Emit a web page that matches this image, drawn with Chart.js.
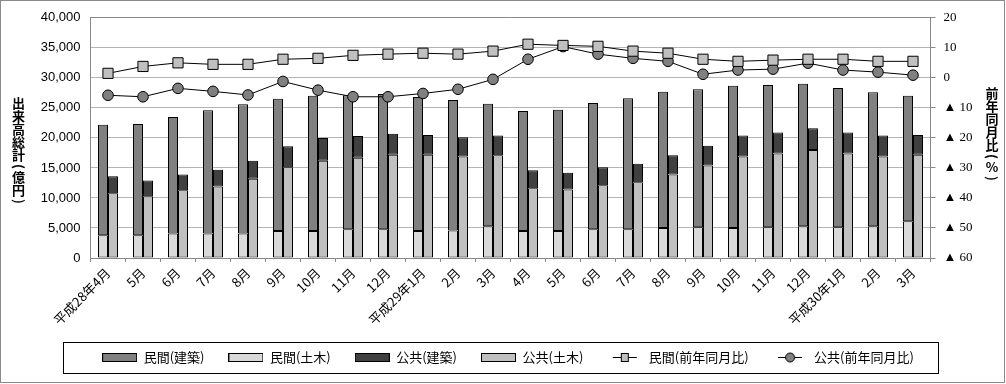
<!DOCTYPE html>
<html>
<head>
<meta charset="utf-8">
<script src="https://cdn.jsdelivr.net/npm/chart.js@4/dist/chart.umd.min.js"></script>
<style>
  html, body { margin: 0; padding: 0; background: #fff; }
  #wrap { position: relative; width: 1006px; height: 384px; }
  #c { position: absolute; left: 0; top: 0; }
</style>
</head>
<body>
<div id="wrap">
  <canvas id="c" width="1006" height="384"></canvas>
</div>
<script>
// ---- data ----
const categories = ['平成28年4月','5月','6月','7月','8月','9月','10月','11月','12月',
  '平成29年1月','2月','3月','4月','5月','6月','7月','8月','9月','10月','11月','12月',
  '平成30年1月','2月','3月'];

const privateBuilding = [18400,18500,19400,20500,21500,22000,22500,22300,22500,22300,21700,20400,
  20000,20200,21000,21800,22700,23000,23700,23700,23700,23200,22300,20900];
const privateCivil = [3800,3800,4100,4100,4100,4500,4500,4800,4800,4500,4600,5300,
  4500,4500,4800,4800,5000,5100,5000,5100,5300,5100,5300,6100];
const publicBuilding = [2800,2600,2600,2800,3000,3500,3800,3600,3500,3300,3200,3300,
  3000,2800,3000,3100,3200,3300,3500,3500,3600,3500,3500,3300];
const publicCivil = [10800,10300,11300,11900,13200,15100,16200,16700,17200,17200,16900,17100,
  11600,11400,12100,12600,13900,15400,16900,17400,18000,17400,16900,17200];
const privateYoY = [1.5,3.8,5.0,4.5,4.5,6.2,6.5,7.5,7.9,8.2,7.9,8.9,
  11.2,10.8,10.5,8.9,8.2,6.2,5.5,5.9,6.2,6.2,5.5,5.5];
const publicYoY = [-5.8,-6.3,-3.5,-4.5,-5.7,-1.2,-4.1,-6.3,-6.3,-5.2,-3.8,-0.5,
  6.2,10.4,7.9,6.5,5.5,1.2,2.6,2.9,4.9,2.6,1.9,0.9];

const leftTicks = [0,5000,10000,15000,20000,25000,30000,35000,40000];
const rightTicks = [-60,-50,-40,-30,-20,-10,0,10,20];

const seriesNames = ['民間(建築)','民間(土木)','公共(建築)','公共(土木)','民間(前年同月比)','公共(前年同月比)'];
const leftTitle = '出来高総計(億円)';
const rightTitle = '前年同月比(%)';

// ---- styles ----
const C_PB = '#808080', C_PC = '#d9d9d9', C_GB = '#404040', C_GC = '#c0c0c0';
const jpFont = '"Noto Sans CJK JP", sans-serif';

function rectSwatch(fill) {
  const c = document.createElement('canvas');
  c.width = 35; c.height = 9;
  const x = c.getContext('2d');
  x.fillStyle = fill; x.fillRect(0, 0, 35, 9);
  x.strokeStyle = '#000'; x.lineWidth = 1; x.strokeRect(0.5, 0.5, 34, 8);
  return c;
}
function lineSwatch(kind) {
  const c = document.createElement('canvas');
  c.width = 26; c.height = 11;
  const x = c.getContext('2d');
  x.strokeStyle = '#000'; x.lineWidth = 1;
  x.beginPath(); x.moveTo(1, 5.5); x.lineTo(25, 5.5); x.stroke();
  if (kind === 'rect') {
    x.fillStyle = C_GC; x.fillRect(9, 1, 8, 9);
    x.strokeRect(9.5, 1.5, 7, 8);
  } else {
    x.fillStyle = C_PB;
    x.beginPath(); x.arc(13, 5.5, 4.5, 0, Math.PI * 2); x.fill(); x.stroke();
  }
  return c;
}
const swatches = [rectSwatch(C_PB), rectSwatch(C_PC), rectSwatch(C_GB), rectSwatch(C_GC), lineSwatch('rect'), lineSwatch('circle')];

function drawVertical(ctx, text, cx, top) {
  ctx.save();
  ctx.font = 'bold 13px ' + jpFont;
  ctx.fillStyle = '#000';
  ctx.textAlign = 'center';
  ctx.textBaseline = 'middle';
  let y = top;
  for (const ch of text) {
    const rot = (ch === '(' || ch === ')');
    const step = rot ? 9 : 13;
    const cy = y + step / 2;
    if (rot) {
      ctx.save();
      ctx.translate(cx, cy);
      ctx.rotate(Math.PI / 2);
      ctx.fillText(ch, 0, 0);
      ctx.restore();
    } else {
      ctx.fillText(ch, cx, cy);
    }
    y += step;
  }
  ctx.restore();
}

const frames = {
  id: 'frames',
  afterDraw(chart) {
    const ctx = chart.ctx;
    ctx.save();
    ctx.strokeStyle = '#8a8a8a'; ctx.lineWidth = 1;
    ctx.strokeRect(0.5, 0.5, 1004, 382);
    ctx.strokeStyle = '#000';
    ctx.strokeRect(63.5, 342.5, 875, 31);
    ctx.restore();
    drawVertical(ctx, leftTitle, 18.5, 97);
    drawVertical(ctx, rightTitle, 992, 87);
  }
};

new Chart(document.getElementById('c'), {
  type: 'bar',
  data: {
    labels: categories,
    datasets: [
      { type: 'bar', label: seriesNames[1], data: privateCivil, stack: 'priv', backgroundColor: C_PC,
        borderColor: '#000', borderWidth: 1, borderSkipped: false, yAxisID: 'y', order: 1 },
      { type: 'bar', label: seriesNames[0], data: privateBuilding, stack: 'priv', backgroundColor: C_PB,
        borderColor: '#000', borderWidth: 1, borderSkipped: false, yAxisID: 'y', order: 1 },
      { type: 'bar', label: seriesNames[3], data: publicCivil, stack: 'pub', backgroundColor: C_GC,
        borderColor: '#000', borderWidth: 1, borderSkipped: false, yAxisID: 'y', order: 1 },
      { type: 'bar', label: seriesNames[2], data: publicBuilding, stack: 'pub', backgroundColor: C_GB,
        borderColor: '#000', borderWidth: 1, borderSkipped: false, yAxisID: 'y', order: 1 },
      { type: 'line', label: seriesNames[4], data: privateYoY, yAxisID: 'y1', order: 0,
        borderColor: '#000', borderWidth: 1, pointStyle: 'rect', pointRadius: 7.2,
        pointBackgroundColor: C_GC, pointBorderColor: '#000', pointBorderWidth: 1, tension: 0 },
      { type: 'line', label: seriesNames[5], data: publicYoY, yAxisID: 'y1', order: 0,
        borderColor: '#000', borderWidth: 1, pointStyle: 'circle', pointRadius: 5.3,
        pointBackgroundColor: C_PB, pointBorderColor: '#000', pointBorderWidth: 1, tension: 0 }
    ]
  },
  options: {
    responsive: false,
    animation: false,
    events: [],
    categoryPercentage: 20 / 35,
    barPercentage: 1.0,
    layout: { padding: { left: 10, right: 0, top: 17, bottom: 10 } },
    plugins: {
      tooltip: { enabled: false },
      legend: {
        position: 'bottom',
        labels: {
          font: { family: jpFont, size: 13 },
          color: '#000',
          usePointStyle: true,
          pointStyleWidth: 35,
          padding: 24,
          generateLabels: () => seriesNames.map((n, i) => ({
            text: n, pointStyle: swatches[i], fillStyle: 'transparent', strokeStyle: 'transparent',
            lineWidth: 0, hidden: false, datasetIndex: i, fontColor: '#000'
          }))
        }
      }
    },
    scales: {
      x: {
        stacked: true,
        offset: true,
        grid: { offset: true, drawOnChartArea: false, drawTicks: true, tickLength: 4, color: '#888' },
        border: { color: '#888' },
        ticks: { autoSkip: false, maxRotation: 45, minRotation: 45, padding: 3, color: '#000',
                 font: { family: jpFont, size: 13 } },
        afterFit(s) { s.height = 374 - s.chart.legend.height - 258; }
      },
      y: {
        stacked: true,
        position: 'left',
        min: 0, max: 40000,
        afterBuildTicks(s) { s.ticks = leftTicks.map(v => ({ value: v })); },
        ticks: { padding: 10, color: '#000', font: { family: '"Liberation Sans", Arial, sans-serif', size: 13 },
                 callback: v => v.toLocaleString('en-US') },
        grid: { drawTicks: false, color: ctx => (ctx.tick && ctx.tick.value === 40000) ? '#888' : '#b4b4b4' },
        border: { color: '#888' },
        afterFit(s) { s.width = 80.5; }
      },
      y1: {
        position: 'right',
        min: -60, max: 20,
        afterBuildTicks(s) { s.ticks = rightTicks.map(v => ({ value: v })); },
        ticks: { padding: 8, color: '#000', font: { family: '"Liberation Serif", serif', size: 13 },
                 callback: v => v < 0 ? '▲ ' + (-v) : String(v) },
        grid: { drawOnChartArea: false, drawTicks: true, tickLength: 5, color: '#888' },
        border: { color: '#888' },
        afterFit(s) { s.width = 75.5; }
      }
    }
  },
  plugins: [frames]
});
</script>
</body>
</html>
